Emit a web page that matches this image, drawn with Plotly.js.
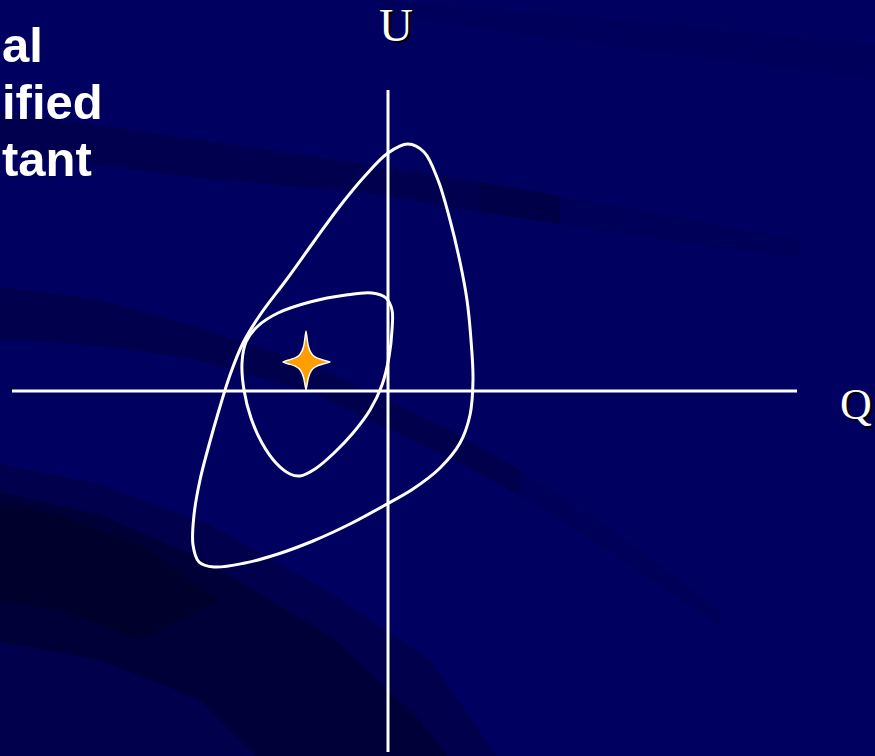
<!DOCTYPE html>
<html>
<head>
<meta charset="utf-8">
<script src="https://cdn.plot.ly/plotly-3.0.1.min.js"></script>
<style>
  html, body { margin: 0; padding: 0; background: #000060; }
  #chart { width: 875px; height: 756px; }
</style>
</head>
<body>
<div id="chart"></div>
<script>
// ---- Data (Q, U plane) ----
var outerQ = [-0.73, -0.48, -0.24, 0.00, 0.20, 0.36, 0.50, 0.62, 0.72, 0.79, 0.83, 0.85, 0.82, 0.72, 0.52, 0.25, -0.01, -0.38, -0.75, -1.10, -1.43, -1.74, -1.89, -1.95, -1.94, -1.88, -1.79, -1.69, -1.58, -1.45, -1.28, -1.01, -0.73];
var outerU = [1.51, 1.85, 2.14, 2.38, 2.47, 2.39, 2.11, 1.71, 1.29, 0.91, 0.51, 0.11, -0.24, -0.52, -0.77, -0.98, -1.13, -1.33, -1.50, -1.63, -1.72, -1.76, -1.71, -1.54, -1.24, -0.89, -0.54, -0.19, 0.16, 0.48, 0.76, 1.12, 1.51];

var innerQ = [-0.42, -0.78, -1.10, -1.30, -1.42, -1.46, -1.44, -1.37, -1.26, -1.12, -0.98, -0.88, -0.73, -0.54, -0.35, -0.18, -0.06, 0.01, 0.04, 0.04, -0.02, -0.16, -0.42];
var innerU = [0.96, 0.89, 0.78, 0.65, 0.49, 0.28, 0.01, -0.27, -0.52, -0.72, -0.83, -0.85, -0.78, -0.62, -0.42, -0.19, 0.06, 0.34, 0.61, 0.81, 0.93, 0.98, 0.96];

var starQ = [-0.82];
var starU = [0.29];

var qAxisQ = [-3.76, 4.09];
var qAxisU = [0, 0];
var uAxisQ = [0, 0];
var uAxisU = [3.01, -3.61];

var axisLabels = ["Q", "U"];
var sideText = ["al", "ified", "tant"];

// ---- Layout helpers (pixel <-> data mapping: 100 px per unit) ----
var W = 875, H = 756;
var X0 = 388, Y0 = 391, S = 100;
function px(q) { return X0 + q * S; }
function py(u) { return Y0 - u * S; }
function dq(x) { return (x - X0) / S; }
function du(y) { return (Y0 - y) / S; }

// Four-pointed star polygon built around the star's center (sizes in px)
function starShape(cq, cu) {
  var cx = px(cq), cy = py(cu);
  var up = 31, down = 28, left = 23, right = 24, w = 6.8;
  var pts = [
    [cx, cy - up],
    [cx + w * 0.3, cy - w * 2.5],
    [cx + w * 0.6, cy - w * 1.6],
    [cx + w * 1.0, cy - w * 1.0],
    [cx + w * 1.6, cy - w * 0.6],
    [cx + w * 2.5, cy - w * 0.3],
    [cx + right, cy],
    [cx + w * 2.5, cy + w * 0.3],
    [cx + w * 1.6, cy + w * 0.6],
    [cx + w * 1.0, cy + w * 1.0],
    [cx + w * 0.6, cy + w * 1.6],
    [cx + w * 0.3, cy + w * 2.5],
    [cx, cy + down],
    [cx - w * 0.3, cy + w * 2.5],
    [cx - w * 0.6, cy + w * 1.6],
    [cx - w * 1.0, cy + w * 1.0],
    [cx - w * 1.6, cy + w * 0.6],
    [cx - w * 2.5, cy + w * 0.3],
    [cx - left, cy],
    [cx - w * 2.5, cy - w * 0.3],
    [cx - w * 1.6, cy - w * 0.6],
    [cx - w * 1.0, cy - w * 1.0],
    [cx - w * 0.6, cy - w * 1.6],
    [cx - w * 0.3, cy - w * 2.5],
    [cx, cy - up]
  ];
  return {
    x: pts.map(function (p) { return dq(p[0]); }),
    y: pts.map(function (p) { return du(p[1]); })
  };
}
var star = starShape(starQ[0], starU[0]);

// Background swooshes (slide decoration) as paths
function band(top, bottom) {
  var all = top.concat(bottom.slice().reverse());
  var d = 'M ' + dq(all[0][0]) + ',' + du(all[0][1]);
  for (var i = 1; i < all.length; i++) d += ' L ' + dq(all[i][0]) + ',' + du(all[i][1]);
  return d + ' Z';
}
var swooshes = [
  { top: [[-10, 110], [200, 140], [370, 165], [480, 182], [560, 196]], bot: [[-10, 152], [200, 178], [370, 193], [480, 212], [560, 224]], c: 'rgba(0,0,35,0.30)' },
  { top: [[480, 182], [650, 212], [800, 240]], bot: [[480, 212], [650, 238], [800, 258]], c: 'rgba(0,0,35,0.12)' },
  { top: [[-10, 286], [100, 300], [190, 325], [310, 364], [450, 430], [520, 470]], bot: [[-10, 338], [100, 346], [190, 358], [310, 392], [450, 458], [520, 496]], c: 'rgba(0,0,35,0.32)' },
  { top: [[520, 470], [620, 535], [720, 610]], bot: [[520, 496], [620, 558], [720, 628]], c: 'rgba(0,0,35,0.12)' },
  { top: [[-10, 462], [100, 484], [210, 525], [330, 592], [430, 660], [500, 760]], bot: [[-10, 760], [500, 760]], c: 'rgba(0,0,30,0.28)' },
  { top: [[-10, 490], [100, 515], [200, 558], [333, 638], [420, 720], [450, 760]], bot: [[-10, 640], [100, 660], [200, 700], [260, 760], [450, 760]], c: 'rgba(0,0,20,0.35)' },
  { top: [[-10, 500], [60, 515], [140, 545], [220, 600]], bot: [[-10, 600], [60, 610], [140, 640], [220, 600]], c: 'rgba(0,0,15,0.3)' },
  { top: [[380, 0], [600, 18], [880, 45]], bot: [[380, 15], [600, 45], [880, 80]], c: 'rgba(0,0,35,0.07)' }
];
var shapes = swooshes.map(function (s) {
  return { type: 'path', xref: 'x', yref: 'y', layer: 'below', path: band(s.top, s.bot), fillcolor: s.c, line: { width: 0 } };
});

var lineStyle = { color: '#FFFFFF', width: 3 };
var curveStyle = { color: '#FFFFFF', width: 3, shape: 'spline', smoothing: 1 };

var traces = [
  { x: qAxisQ, y: qAxisU, mode: 'lines', line: lineStyle, hoverinfo: 'skip' },
  { x: uAxisQ, y: uAxisU, mode: 'lines', line: lineStyle, hoverinfo: 'skip' },
  { x: outerQ, y: outerU, mode: 'lines', line: curveStyle },
  { x: innerQ, y: innerU, mode: 'lines', line: curveStyle },
  { x: star.x, y: star.y, mode: 'lines', fill: 'toself', fillcolor: '#FF9E00', line: { color: '#FFFFFF', width: 1.5, shape: 'spline', smoothing: 0.4 } }
];

var serif = 'Liberation Serif, Times New Roman, serif';
var sans = 'Liberation Sans, Arial, sans-serif';
var layout = {
  width: W, height: H,
  margin: { l: 0, r: 0, t: 0, b: 0 },
  paper_bgcolor: '#000060',
  plot_bgcolor: 'rgba(0,0,0,0)',
  showlegend: false,
  xaxis: { range: [dq(0), dq(W)], visible: false, fixedrange: true },
  yaxis: { range: [du(H), du(0)], visible: false, fixedrange: true },
  shapes: shapes,
  annotations: [
    { text: axisLabels[1], x: dq(396), y: du(25), xref: 'x', yref: 'y', showarrow: false, xanchor: 'center', yanchor: 'middle',
      font: { family: serif, size: 47, color: '#FFFFFF', shadow: '2px 2px 1px #000000' } },
    { text: axisLabels[0], x: dq(838), y: du(404), xref: 'x', yref: 'y', showarrow: false, xanchor: 'left', yanchor: 'middle',
      font: { family: serif, size: 44, color: '#FFFFFF', shadow: '2px 2px 1px #000000' } },
    { text: sideText[0], x: dq(0), y: du(45), xref: 'x', yref: 'y', showarrow: false, xanchor: 'left', yanchor: 'middle',
      font: { family: sans, size: 49, color: '#FFFFFF', weight: 'bold' } },
    { text: sideText[1], x: dq(0), y: du(102), xref: 'x', yref: 'y', showarrow: false, xanchor: 'left', yanchor: 'middle',
      font: { family: sans, size: 49, color: '#FFFFFF', weight: 'bold' } },
    { text: sideText[2], x: dq(0), y: du(159), xref: 'x', yref: 'y', showarrow: false, xanchor: 'left', yanchor: 'middle',
      font: { family: sans, size: 49, color: '#FFFFFF', weight: 'bold' } }
  ]
};

Plotly.newPlot('chart', traces, layout, { displayModeBar: false, staticPlot: true });
</script>
</body>
</html>
